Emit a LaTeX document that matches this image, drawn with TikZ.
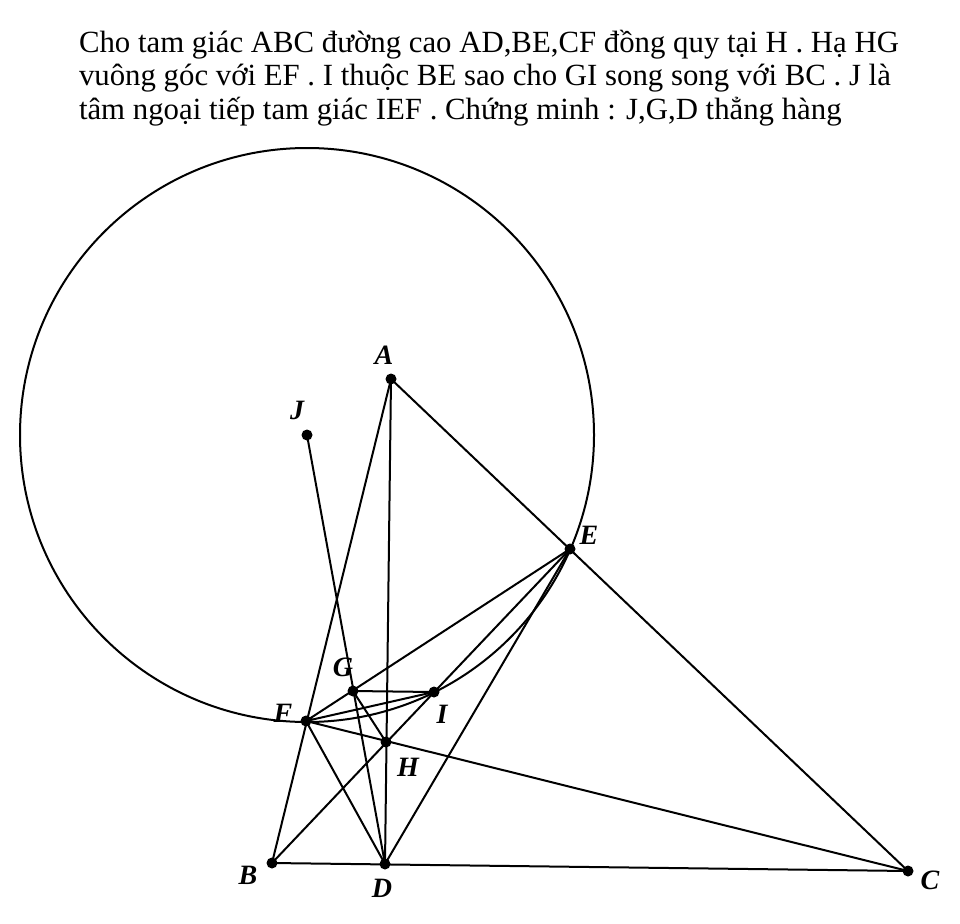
\documentclass[tikz,border=0pt]{standalone}
\usepackage{fontspec}
\setmainfont{Liberation Serif}
\usepackage{tikz}

\tikzset{
	pt/.style={circle,fill=black,inner sep=0pt,minimum size=11pt},
	lbl/.style={font=\fontsize{28}{28}\selectfont\bfseries\itshape}
}

\begin{document}
\begin{tikzpicture}[x=1pt,y=-1pt,line width=2pt]
		\useasboundingbox (0,0) rectangle (960,923);

		\node[anchor=north west,align=left,inner sep=0pt,font=\fontsize{30.8}{33.5}\selectfont] (txt) at (78,29)
			{Cho tam giác ABC đường cao AD,BE,CF đồng quy tại H . Hạ HG\\
			vuông góc với EF . I thuộc BE sao cho GI song song với BC . J là\\
			tâm ngoại tiếp tam giác IEF . Chứng minh : J,G,D thẳng hàng};

		\node[pt] (A) at (391,379) {};
		\node[pt] (B) at (272,863) {};
		\node[pt] (C) at (908,871) {};
		\node[pt] (D) at (385,864) {};
		\node[pt] (E) at (570,549) {};
		\node[pt] (F) at (306,721) {};
		\node[pt] (G) at (353,691) {};
		\node[pt] (H) at (386,742) {};
		\node[pt] (I) at (434,692) {};
		\node[pt] (J) at (307,435) {};

		\node[lbl] at (384,355) {A};
		\node[lbl] at (297,410) {J};
		\node[lbl] at (589,535) {E};
		\node[lbl] at (343,667) {G};
		\node[lbl] at (442,714) {I};
		\node[lbl] at (283,713) {F};
		\node[lbl] at (408,767) {H};
		\node[lbl] at (248,875) {B};
		\node[lbl] at (382,888) {D};
		\node[lbl] at (930,880) {C};

		\draw (J.center) circle (287);

		\draw (A.center) -- (B.center) -- (C.center) -- cycle;
		\draw (A.center) -- (D.center);
		\draw (B.center) -- (E.center);
		\draw (C.center) -- (F.center);
		\draw (E.center) -- (F.center) -- (I.center);
		\draw (G.center) -- (I.center);
		\draw (G.center) -- (H.center);
		\draw (J.center) -- (D.center);
		\draw (F.center) -- (D.center) -- (E.center);
	\end{tikzpicture}
\end{document}
